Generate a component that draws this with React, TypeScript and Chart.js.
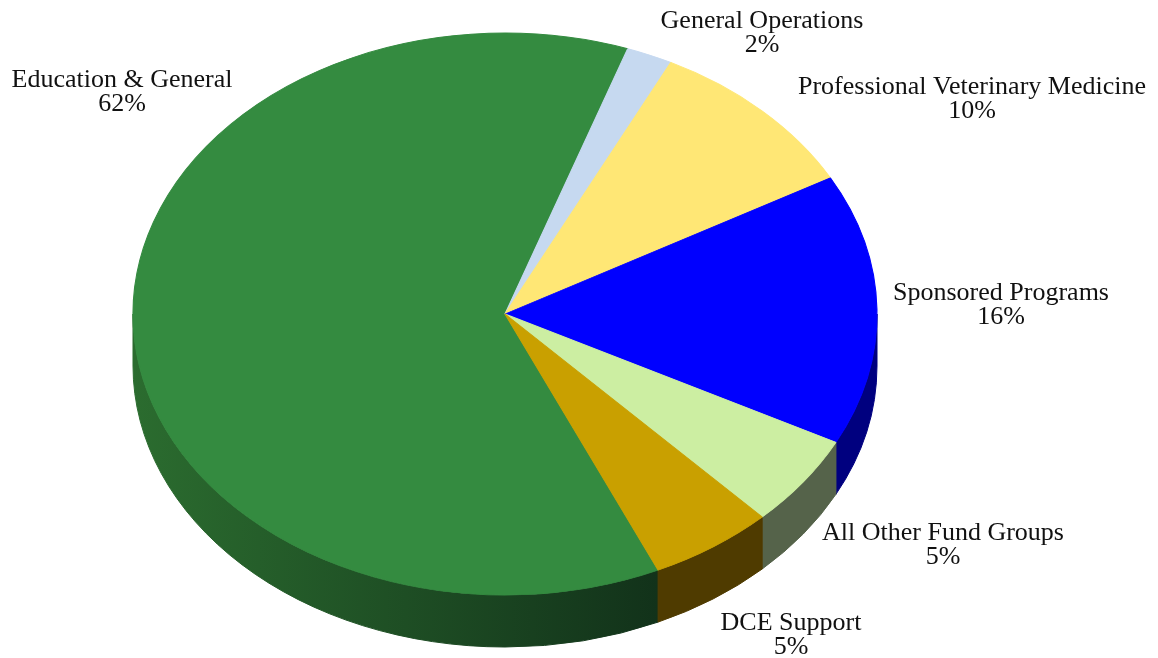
import React, { useEffect, useRef } from "react";
import { Chart, registerables } from "chart.js";

Chart.register(...registerables);

const CATEGORIES = [
  "Education & General",
  "General Operations",
  "Professional Veterinary Medicine",
  "Sponsored Programs",
  "All Other Fund Groups",
  "DCE Support",
];
const VALUES = [62.1, 2.0, 9.6, 15.6, 5.3, 5.4];

const TOP_COLORS = ["#348B40", "#C6D9F0", "#FFE775", "#0000FF", "#CCEEA2", "#C9A000"];
const SIDE_COLORS = [
  ["#2B6C2F", "#12321A"],
  ["#6F7F90"],
  ["#8A7A30"],
  ["#00007F"],
  ["#55634A"],
  ["#4F3B00"],
];
// text anchor: centre x, baseline of first line
const LABEL_POS = [
  [122, 87],
  [762, 28],
  [972, 94],
  [1001, 300],
  [943, 540],
  [791, 630],
];

const pie3dPlugin = {
  id: "pie3d",
  beforeDatasetsDraw(chart: any, _args: any, opts: any) {
    const meta = chart.getDatasetMeta(0);
    if (!meta.data.length) return;
    const ctx = chart.ctx;
    const { cx, cy, rx, ry, depth } = opts;
    const TWO_PI = Math.PI * 2;
    meta.data.forEach((arc: any, i: number) => {
      const p = arc.getProps(["startAngle", "endAngle"], true);
      const a1 = ((p.startAngle % TWO_PI) + TWO_PI) % TWO_PI;
      const a2 = a1 + (p.endAngle - p.startAngle);
      const ranges = [
        [0, Math.PI],
        [TWO_PI, TWO_PI + Math.PI],
      ];
      for (const [lo, hi] of ranges) {
        const b1 = Math.max(a1, lo);
        const b2 = Math.min(a2, hi);
        if (b2 <= b1) continue;
        ctx.beginPath();
        ctx.ellipse(cx, cy, rx, ry, 0, b1, b2, false);
        ctx.lineTo(cx + rx * Math.cos(b2), cy + ry * Math.sin(b2) + depth);
        ctx.ellipse(cx, cy + depth, rx, ry, 0, b2, b1, true);
        ctx.closePath();
        const cols = opts.sideColors[i];
        let fill: any = cols[0];
        if (cols.length > 1) {
          const xa = cx + rx * Math.cos(b2);
          const xb = cx + rx * Math.cos(b1);
          const g = ctx.createLinearGradient(Math.min(xa, xb), 0, Math.max(xa, xb), 0);
          g.addColorStop(0, cols[0]);
          g.addColorStop(1, cols[1]);
          fill = g;
        }
        ctx.fillStyle = fill;
        ctx.strokeStyle = fill;
        ctx.lineWidth = 1;
        ctx.fill();
        ctx.stroke();
      }
    });
    const p0 = meta.data[0].getProps(["x", "y", "outerRadius"], true);
    ctx.save();
    ctx.translate(cx, cy);
    ctx.scale(rx / p0.outerRadius, ry / p0.outerRadius);
    ctx.translate(-p0.x, -p0.y);
  },
  afterDatasetsDraw(chart: any) {
    chart.ctx.restore();
  },
  afterDraw(chart: any, _args: any, opts: any) {
    const ctx = chart.ctx;
    const labels = chart.data.labels;
    const data = chart.data.datasets[0].data;
    ctx.save();
    ctx.fillStyle = "#111111";
    ctx.font = "26px 'Liberation Serif', 'Times New Roman', serif";
    ctx.textAlign = "center";
    ctx.textBaseline = "alphabetic";
    labels.forEach((lab: string, i: number) => {
      const [x, y] = opts.labelPos[i];
      ctx.fillText(lab, x, y);
      ctx.fillText(Math.round(data[i]) + "%", x, y + opts.lineHeight);
    });
    ctx.restore();
  },
};

export default function App() {
  const ref = useRef<HTMLCanvasElement | null>(null);
  useEffect(() => {
    if (!ref.current) return;
    const chart = new Chart(ref.current, {
      type: "pie",
      data: {
        labels: CATEGORIES,
        datasets: [
          {
            data: VALUES,
            backgroundColor: TOP_COLORS,
            borderColor: TOP_COLORS,
            borderWidth: 1,
            clip: false,
          } as any,
        ],
      },
      options: {
        responsive: false,
        animation: false,
        devicePixelRatio: 1,
        rotation: 155.7,
        layout: { padding: 0 },
        plugins: {
          legend: { display: false },
          tooltip: { enabled: false },
          pie3d: {
            cx: 505,
            cy: 314,
            rx: 372,
            ry: 281,
            depth: 52,
            sideColors: SIDE_COLORS,
            labelPos: LABEL_POS,
            lineHeight: 24,
          },
        } as any,
      },
      plugins: [pie3dPlugin],
    });
    return () => chart.destroy();
  }, []);
  return (
    <div style={{ position: "absolute", left: 0, top: 0, width: 1158, height: 658, background: "#fff" }}>
      <canvas ref={ref} width={1158} height={658} />
    </div>
  );
}
